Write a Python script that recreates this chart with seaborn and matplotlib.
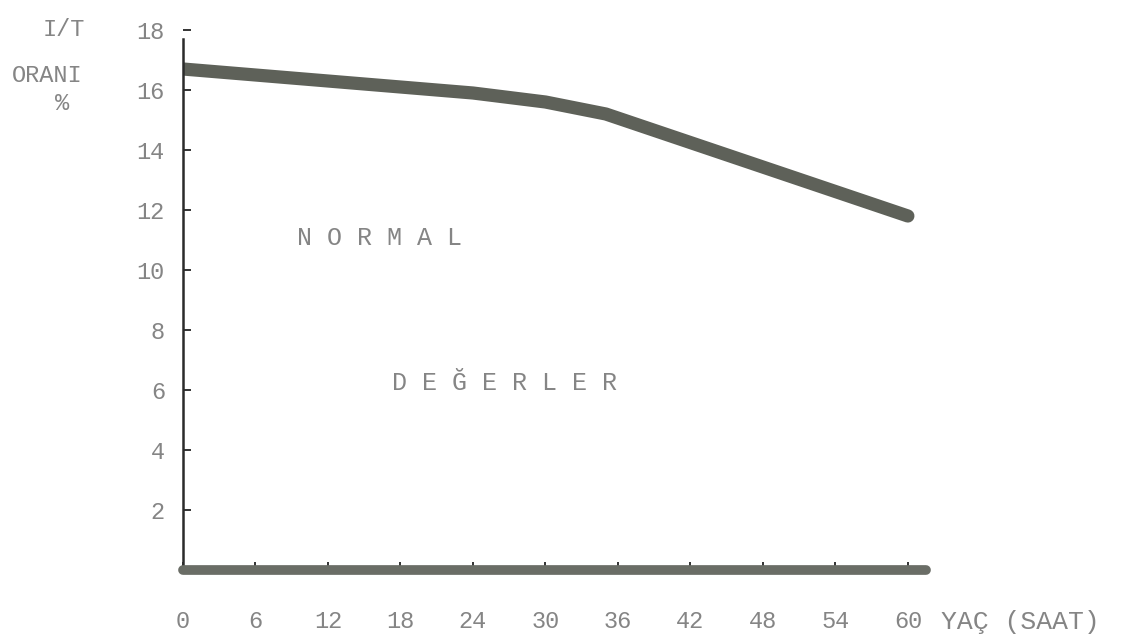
# I/T orani - yas grafigi (daktilo ile cizilmis tablonun yeniden cizimi)
import matplotlib
matplotlib.use("Agg")
import matplotlib.pyplot as plt
import pandas as pd
import seaborn as sns

# Data
hours = [0, 24, 30, 35, 60]                   # yas (saat)
ratio = [16.7, 15.9, 15.6, 15.2, 11.8]        # I/T orani %
x_ticks = [0, 6, 12, 18, 24, 30, 36, 42, 48, 54, 60]
y_ticks = [2, 4, 6, 8, 10, 12, 14, 16, 18]

df = pd.DataFrame({'saat': hours, 'oran': ratio})

# Style
sns.set_style("white")
plt.rcParams['font.family'] = ['Liberation Mono', 'DejaVu Sans Mono']
ink = '#5e6159'        # koyu gri kalem
type_grey = '#858585'  # daktilo yazisi

fig = plt.figure(figsize=(11.22, 6.44), dpi=100)
ax = fig.add_axes([183/1122, 74/644, 743/1122, 549/644])

sns.lineplot(data=df, x='saat', y='oran', color=ink, linewidth=9.5,
             solid_capstyle='round', ax=ax)

ax.set_xlim(0, 61.5)
ax.set_ylim(0, 18.3)
ax.set_xticks(x_ticks)
ax.set_yticks(y_ticks)
ax.set_xticklabels([str(t) for t in x_ticks])
ax.set_yticklabels([str(t) for t in y_ticks])

# Axes: thin black y-axis, thick grey x-axis
sns.despine(ax=ax, top=True, right=True)
ax.spines['left'].set_color('#2b2b2b')
ax.spines['left'].set_linewidth(1.8)
ax.spines['left'].set_bounds(0, 17.7)
ax.spines['bottom'].set_color('#6a6d66')
ax.spines['bottom'].set_linewidth(7)
ax.spines['bottom'].set_capstyle('round')
ax.tick_params(axis='both', bottom=True, left=True, direction='in', length=6,
               width=1.4, color='#333333', labelcolor=type_grey, labelsize=17)
ax.tick_params(axis='x', pad=29)
ax.tick_params(axis='y', pad=13)

# Axis titles
ax.set_xlabel('YAÇ (SAAT)', fontsize=19, color=type_grey)
ax.xaxis.set_label_coords(1.127, -0.095)
ax.xaxis.label.set_va('center')
ax.set_ylabel('')
fig.text(64/1122, 1 - 30/644, 'I/T', fontsize=17, color=type_grey, ha='center', va='center')
fig.text(47/1122, 1 - 75/644, 'ORANI', fontsize=17, color=type_grey, ha='center', va='center')
fig.text(62/1122, 1 - 104/644, '%', fontsize=17, color=type_grey, ha='center', va='center')

# Region text
ax.text(0.153, 0.605, 'N O R M A L', transform=ax.transAxes, fontsize=18,
        color=type_grey, ha='left', va='center')
ax.text(0.281, 0.341, 'D E Ğ E R L E R', transform=ax.transAxes, fontsize=18,
        color=type_grey, ha='left', va='center')

plt.savefig('out.png', dpi=100)
